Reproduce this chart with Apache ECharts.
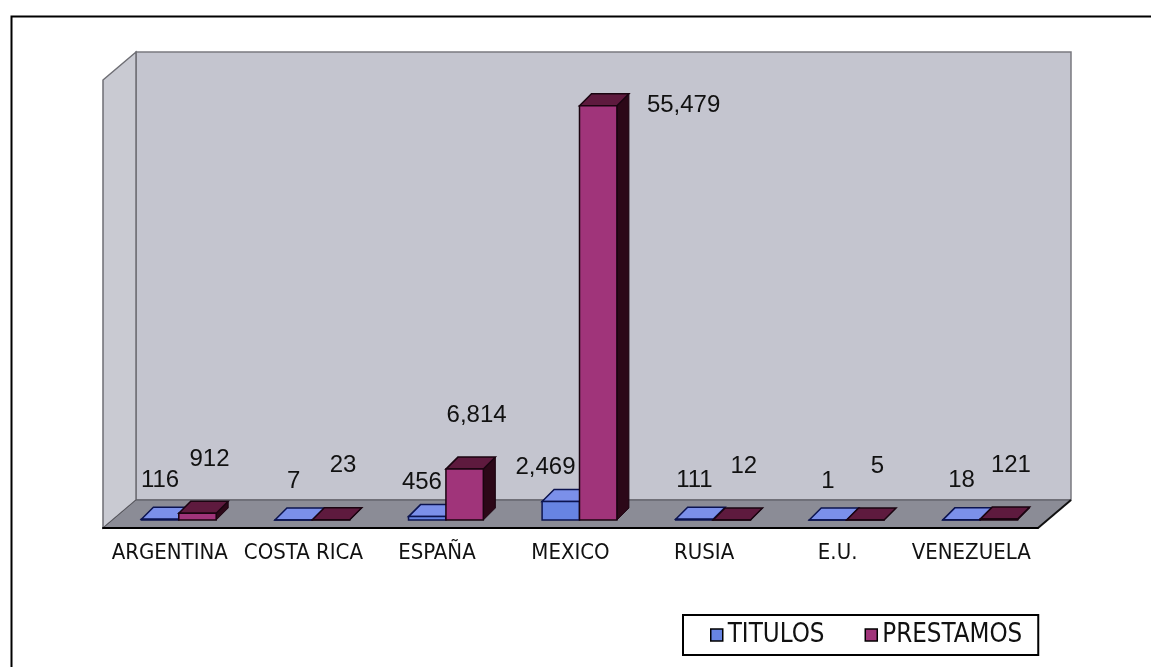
<!DOCTYPE html>
<html>
<head>
<meta charset="utf-8">
<script src="https://cdn.jsdelivr.net/npm/echarts@6/dist/echarts.min.js"></script>
<style>
  html, body { margin: 0; padding: 0; background: #ffffff; }
  #chart { width: 1151px; height: 667px; }
</style>
</head>
<body>
<div id="chart"></div>
<script>
// ---- Data ----
const categories = ['ARGENTINA', 'COSTA RICA', 'ESPAÑA', 'MEXICO', 'RUSIA', 'E.U.', 'VENEZUELA'];
const titulos    = [116, 7, 456, 2469, 111, 1, 18];
const prestamos  = [912, 23, 6814, 55479, 12, 5, 121];
const seriesNames = ['TITULOS', 'PRESTAMOS'];
const valueMax = 60000;

// ---- Font selection (narrow face for axis / legend text) ----
function hasFont(name) {
  const c = document.createElement('canvas').getContext('2d');
  const s = 'ARGENTINA 0123 mwil';
  const res = [];
  for (const fb of ['monospace', 'serif']) {
    c.font = '40px ' + fb;
    const a = c.measureText(s).width;
    c.font = '40px "' + name + '", ' + fb;
    const b = c.measureText(s).width;
    res.push(a !== b);
  }
  return res[0] || res[1];
}
function fitSize(family, text, targetW) {
  const c = document.createElement('canvas').getContext('2d');
  c.font = '100px ' + family;
  return Math.round(100 * targetW / c.measureText(text).width * 10) / 10;
}
let narrowName = null;
for (const n of ['Liberation Sans Narrow', 'Arial Narrow', 'DejaVu Sans Condensed']) {
  if (hasFont(n)) { narrowName = n; break; }
}
const narrowFamily = narrowName ? '"' + narrowName + '", "Liberation Sans", Arial, sans-serif'
                                : '"Liberation Sans", Arial, sans-serif';
const axisFontSize = fitSize(narrowFamily, 'ARGENTINA', 116);
const legendFontSize = fitSize(narrowFamily, 'PRESTAMOS', 140);
const labelFamily = '"Liberation Sans", Arial, sans-serif';

// ---- 3D look parameters ----
const WALL_DEPTH = [33, -28];
const BAR_SHIFT = [9, -8];
const BAR_DEPTH = [12, -12];
const BAR_FRAC = 0.28;

const palettes = [
  { front: '#6784e2', top: '#7b90ea', side: '#2c3a8c', edge: '#0c1450' },
  { front: '#a0347a', top: '#5e1a3e', side: '#2c0818', edge: '#1a0410' }
];

function fmt(v) { return v.toLocaleString('en-US'); }

function barRenderer(sIdx) {
  const pal = palettes[sIdx];
  return function (params, api) {
    const cat = api.value(0), val = api.value(1);
    const base = api.coord([cat, 0]);
    const top = api.coord([cat, val]);
    const band = api.size([1, 0])[0];
    const bw = band * BAR_FRAC;
    const x0 = base[0] + BAR_SHIFT[0] + (sIdx === 0 ? -bw : 0);
    const x1 = x0 + bw;
    const yb = base[1] + BAR_SHIFT[1];
    const yt = top[1] + BAR_SHIFT[1];
    const dx = BAR_DEPTH[0], dy = BAR_DEPTH[1];
    const cs = params.coordSys;
    const children = [
      { type: 'polygon', shape: { points: [[x1, yt], [x1 + dx, yt + dy], [x1 + dx, yb + dy], [x1, yb]] },
        style: { fill: pal.side, stroke: pal.edge, lineWidth: 1 } },
      { type: 'polygon', shape: { points: [[x0, yt], [x1, yt], [x1 + dx, yt + dy], [x0 + dx, yt + dy]] },
        style: { fill: pal.top, stroke: pal.edge, lineWidth: 1.5 } },
      { type: 'rect', shape: { x: x0, y: yt, width: bw, height: Math.max(0, yb - yt) },
        style: { fill: pal.front, stroke: pal.edge, lineWidth: 1.5 } }
    ];
    let lx, ly, align = 'center';
    const cx = x0 + bw / 2;
    if (sIdx === 0) {
      lx = cx; ly = yt - 39;
      // keep label clear of a tall neighbouring bar
      const neighbourTop = api.coord([cat, prestamos[cat]])[1] + BAR_SHIFT[1];
      if (neighbourTop < ly + 12) { lx = x1 - 4; align = 'right'; ly = yt - 34; }
    } else {
      lx = cx + 12; ly = yt - 54;
      if (ly - 12 < cs.y) { lx = x1 + dx + 18; ly = yt; align = 'left'; }
    }
    children.push({
      type: 'text', z2: 10,
      style: { text: fmt(val), x: lx, y: ly, align: align, verticalAlign: 'middle',
               fontSize: 24, fontFamily: labelFamily, fill: '#111' }
    });
    return { type: 'group', children: children };
  };
}

function wallRenderer(params, api) {
  const cs = params.coordSys;
  const x0 = cs.x, x1 = cs.x + cs.width, yt = cs.y, yb = cs.y + cs.height;
  const dx = WALL_DEPTH[0], dy = WALL_DEPTH[1];
  return {
    type: 'group',
    children: [
      { type: 'polygon', shape: { points: [[x0 + dx, yt + dy], [x1 + dx, yt + dy], [x1 + dx, yb + dy], [x0 + dx, yb + dy]] },
        style: { fill: '#c4c5cf', stroke: '#7a7a80', lineWidth: 1.5 } },
      { type: 'polygon', shape: { points: [[x0, yt], [x0 + dx, yt + dy], [x0 + dx, yb + dy], [x0, yb]] },
        style: { fill: '#c9cad2', stroke: '#6e6e74', lineWidth: 1.5 } },
      { type: 'polygon', shape: { points: [[x0, yb], [x1, yb], [x1 + dx, yb + dy], [x0 + dx, yb + dy]] },
        style: { fill: '#8b8c96', stroke: '#55555c', lineWidth: 1 } },
      { type: 'line', shape: { x1: x1, y1: yb, x2: x1 + dx, y2: yb + dy },
        style: { stroke: '#111', lineWidth: 2 } }
    ]
  };
}

const chart = echarts.init(document.getElementById('chart'), null, { renderer: 'canvas' });
chart.setOption({
  animation: false,
  backgroundColor: '#ffffff',
  graphic: [{
    type: 'rect', left: 9, top: 14, z: 100, silent: true,
    shape: { width: 1200, height: 700 },
    style: { fill: 'none', stroke: '#000', lineWidth: 2 }
  }],
  grid: { left: 103, right: 113, top: 80, bottom: 139, containLabel: false },
  xAxis: {
    type: 'category', data: categories, z: 10,
    axisLine: { lineStyle: { color: '#000', width: 2 } },
    axisTick: { length: 5, lineStyle: { color: '#000', width: 2 } },
    axisLabel: { margin: 14, color: '#111', fontSize: axisFontSize, fontFamily: narrowFamily, interval: 0 },
    splitLine: { show: false }
  },
  yAxis: { type: 'value', min: 0, max: valueMax, show: false, splitLine: { show: false } },
  legend: {
    data: seriesNames, left: 683, top: 615,
    orient: 'horizontal',
    padding: [6, 16, 6, 27], itemGap: 40, itemTextGap: 3,
    itemWidth: 12, itemHeight: 12, icon: 'rect',
    borderColor: '#000', borderWidth: 2,
    itemStyle: { borderColor: '#000', borderWidth: 1.5 },
    textStyle: { color: '#111', fontSize: legendFontSize, fontFamily: narrowFamily, lineHeight: 28 }
  },
  series: [
    { type: 'custom', silent: true, z: 1, data: [[0, 0]], renderItem: wallRenderer },
    { type: 'custom', name: seriesNames[0], z: 2, itemStyle: { color: palettes[0].front },
      data: titulos.map((v, i) => [i, v]), renderItem: barRenderer(0) },
    { type: 'custom', name: seriesNames[1], z: 3, itemStyle: { color: palettes[1].front },
      data: prestamos.map((v, i) => [i, v]), renderItem: barRenderer(1) }
  ]
});
</script>
</body>
</html>
